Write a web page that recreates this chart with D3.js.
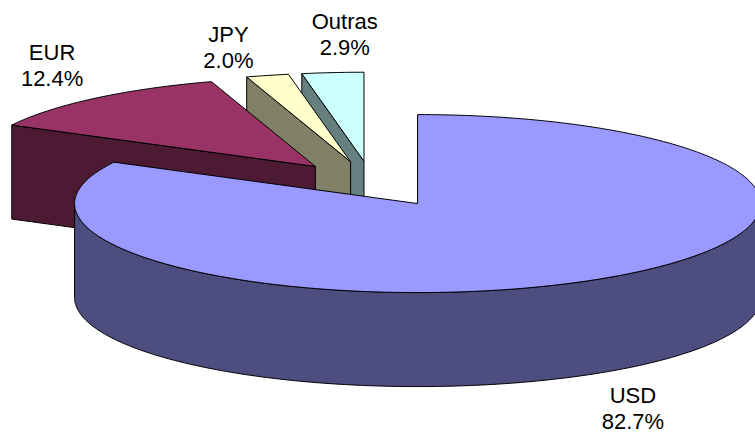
<!DOCTYPE html>
<html>
<head>
<meta charset="utf-8">
<script src="https://cdn.jsdelivr.net/npm/d3@7"></script>
<style>
  html, body { margin: 0; padding: 0; background: #fff; }
  svg { display: block; }
</style>
</head>
<body>
<svg id="chart" width="755" height="434"></svg>
<script>
// ---- data ----
const categories = ["USD", "EUR", "JPY", "Outras"];
const shares = [82.7, 12.4, 2.0, 2.9];
const topColors = ["#9999FF", "#993366", "#FFFFCC", "#CCFFFF"];

// ---- layout (not data) ----
const W = 755, H = 434;
const RX = 343, RY = 89, DEPTH = 94;     // ellipse radii and pie thickness
const CENTER = [372, 184];                // un-exploded pie centre
const EXPLODE = 0.257;                    // explosion (fraction of radius)
const labelNudge = [[38, 29], [-43, -38], [-39, -33], [12, -44]];
const lineGap = 26;

const svg = d3.select("#chart");
const color = d3.scaleOrdinal().domain(categories).range(topColors);
const sideColor = c => d3.interpolateRgb(c, "#000")(0.5);
const fmt = d3.format(".1f");

const pie = d3.pie().sort(null).value(d => d.v).startAngle(0).endAngle(2 * Math.PI);
const arcs = pie(categories.map((k, i) => ({ k, v: shares[i], i })));

function P(c, a, r = 1, dz = 0) {
  return [c[0] + r * RX * Math.sin(a), c[1] - r * RY * Math.cos(a) + dz];
}
function arcPts(c, a0, a1, dz = 0) {
  const n = Math.max(2, Math.ceil(Math.abs(a1 - a0) / 0.01));
  return d3.range(n + 1).map(j => P(c, a0 + (a1 - a0) * j / n, 1, dz));
}
const line = d3.line();

arcs.forEach(d => {
  d.mid = (d.startAngle + d.endAngle) / 2;
  d.c = [CENTER[0] + EXPLODE * RX * Math.sin(d.mid), CENTER[1] - EXPLODE * RY * Math.cos(d.mid)];
});

// paint back to front
const order = arcs.slice().sort((a, b) => a.c[1] - b.c[1]);
const gPie = svg.append("g");

order.forEach(d => {
  const g = gPie.append("g");
  const top = color(d.data.k), side = sideColor(top);
  const a0 = d.startAngle, a1 = d.endAngle, c = d.c;
  const stroke = { "stroke": "#000", "stroke-width": 1, "stroke-linejoin": "round" };
  const draw = (pts, fill) => {
    const p = g.append("path").attr("d", line(pts) + "Z").attr("fill", fill);
    Object.entries(stroke).forEach(([k, v]) => p.attr(k, v));
  };
  // radial faces
  [[a0, a0 - Math.PI / 2], [a1, a1 + Math.PI / 2]].forEach(([a, n]) => {
    if (Math.cos(n) < -1e-6) {
      draw([c, P(c, a), P(c, a, 1, DEPTH), [c[0], c[1] + DEPTH]], side);
    }
  });
  // outer curved side (front half)
  const s = Math.max(a0, Math.PI / 2), t = Math.min(a1, 3 * Math.PI / 2);
  if (s < t) {
    draw(arcPts(c, s, t).concat(arcPts(c, t, s, DEPTH)), side);
  }
  // top face
  draw([c].concat(arcPts(c, a0, a1)), top);
});

// labels
const gLab = svg.append("g")
  .attr("font-family", "'Liberation Sans', Arial, Helvetica, sans-serif")
  .attr("font-size", 22).attr("fill", "#000").attr("text-anchor", "middle");

arcs.forEach(d => {
  const i = d.data.i;
  const front = Math.cos(d.mid) < 0;
  const base = P(d.c, d.mid, 1, front ? DEPTH : 0);
  const x = base[0] + labelNudge[i][0], y = base[1] + labelNudge[i][1];
  const t = gLab.append("text").attr("x", x).attr("y", y);
  t.append("tspan").attr("x", x).attr("y", y).text(d.data.k);
  t.append("tspan").attr("x", x).attr("y", y + lineGap).text(fmt(d.data.v) + "%");
});
</script>
</body>
</html>
